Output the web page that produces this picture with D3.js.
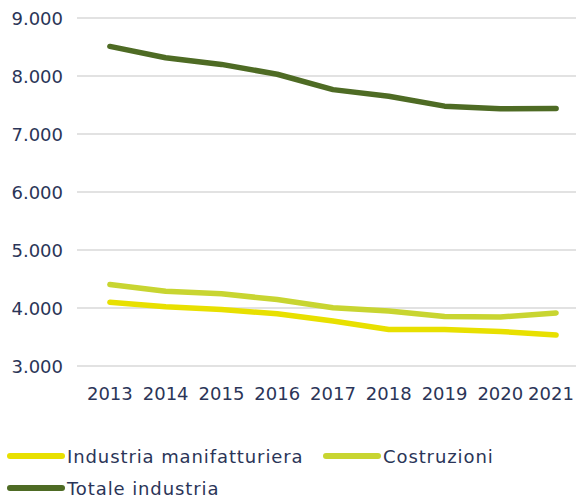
<!DOCTYPE html>
<html>
<head>
<meta charset="utf-8">
<script src="https://cdn.jsdelivr.net/npm/d3@7"></script>
<style>
	body { margin: 0; background: #fff; }
	svg text { font-family: 'Century Gothic', 'URW Gothic', 'DejaVu Sans', sans-serif; fill: #2b3558; }
</style>
</head>
<body>
<div id="chart"></div>
<script>
const years = ['2013', '2014', '2015', '2016', '2017', '2018', '2019', '2020', '2021']
const manifatturiera = [4100, 4020, 3975, 3900, 3775, 3630, 3630, 3595, 3535]
const costruzioni = [4405, 4290, 4245, 4145, 4005, 3950, 3855, 3845, 3915]
const totale = [8510, 8315, 8200, 8030, 7765, 7650, 7480, 7435, 7440]
const yTicks = [3000, 4000, 5000, 6000, 7000, 8000, 9000]

const series = [
	{ name: 'Industria manifatturiera', values: manifatturiera, color: '#e8e000' },
	{ name: 'Costruzioni', values: costruzioni, color: '#c8d531' },
	{ name: 'Totale industria', values: totale, color: '#4e6b24' }
]

const width = 576
const height = 502

const svg = d3.select('#chart')
	.append('svg')
	.attr('width', width)
	.attr('height', height)

const x = d3.scalePoint()
	.domain(years)
	.range([82, 584])
	.padding(0.5)

const y = d3.scaleLinear()
	.domain([3000, 9000])
	.range([366, 18])

const fmt = (v) => d3.format(',')(v).replace(/,/g, '.')

// griglia + etichette asse y
svg.append('g')
	.selectAll('line')
	.data(yTicks)
	.join('line')
	.attr('x1', 77)
	.attr('x2', width)
	.attr('y1', (d) => y(d))
	.attr('y2', (d) => y(d))
	.attr('stroke', '#d9d9d9')
	.attr('stroke-width', 1.5)

svg.append('g')
	.selectAll('text')
	.data(yTicks)
	.join('text')
	.text(fmt)
	.attr('x', 63)
	.attr('y', (d) => y(d) + 7)
	.attr('text-anchor', 'end')
	.style('font-size', '18px')

// etichette asse x (l'ultima tenuta dentro il bordo)
svg.append('g')
	.selectAll('text')
	.data(years)
	.join('text')
	.text((d) => d)
	.attr('x', (d) => Math.min(x(d), width - 25))
	.attr('y', 400)
	.attr('text-anchor', 'middle')
	.style('font-size', '18px')

const line = d3.line()
	.x((_, i) => x(years[i]))
	.y((d) => y(d))

svg.append('g')
	.selectAll('path')
	.data(series)
	.join('path')
	.attr('d', (d) => line(d.values))
	.attr('fill', 'none')
	.attr('stroke', (d) => d.color)
	.attr('stroke-width', 5.5)
	.attr('stroke-linecap', 'round')
	.attr('stroke-linejoin', 'round')

// legenda
const legendPos = [[7, 456], [323, 456], [7, 488]]
const legend = svg.append('g')
	.selectAll('g')
	.data(series)
	.join('g')
	.attr('transform', (_, i) => `translate(${legendPos[i][0]}, ${legendPos[i][1]})`)

legend.append('line')
	.attr('x1', 3)
	.attr('x2', 55)
	.attr('stroke', (d) => d.color)
	.attr('stroke-width', 6)
	.attr('stroke-linecap', 'round')

legend.append('text')
	.text((d) => d.name)
	.attr('x', 60)
	.attr('y', 6.5)
	.style('font-size', '18px')
	.style('letter-spacing', '0.9px')
</script>
</body>
</html>
